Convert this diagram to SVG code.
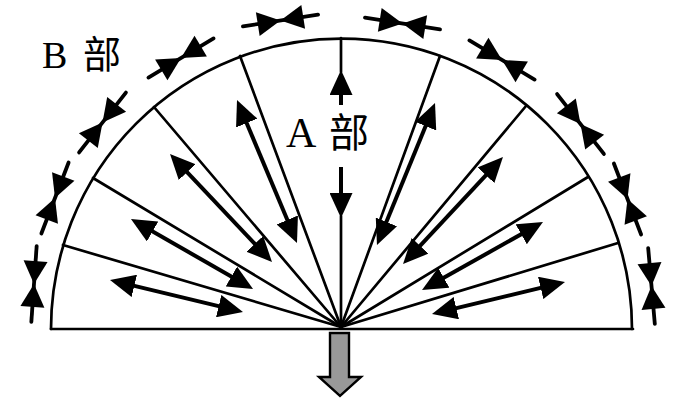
<svg xmlns="http://www.w3.org/2000/svg" width="675" height="399" viewBox="0 0 675 399">
<style>
.thin{stroke:#000;stroke-width:2.7;fill:none;stroke-linecap:round}
.arr{stroke:#000;stroke-width:4;fill:none;marker-start:url(#ah);marker-end:url(#ah)}
.arr1{stroke:#000;stroke-width:4;fill:none;marker-end:url(#ah)}
.lbl{font-family:"Liberation Serif","Noto Sans CJK SC",serif;fill:#000}
.cjk{font-family:"Noto Sans CJK SC","Noto Sans CJK JP",sans-serif}
</style>
<defs>
<marker id="ah" viewBox="0 0 25 23" markerWidth="25" markerHeight="23" refX="17" refY="11.5" orient="auto-start-reverse" markerUnits="userSpaceOnUse">
<path d="M0,0 L25,11.5 L0,23 z" fill="#000"/>
</marker>
<g id="bowtie">
<line x1="-38" y1="0" x2="38" y2="0" stroke="#000" stroke-width="3.8" stroke-linecap="round"/>
<polygon points="0,0 -23,-12 -23,12" fill="#000"/>
<polygon points="0,0 23,-12 23,12" fill="#000"/>
</g>
</defs>
<rect width="675" height="399" fill="#fff"/>

<g id="semicircle">
<path class="thin" d="M51,329 A290,290 0 0 1 632,329" stroke-width="3"/>
<line class="thin" x1="51" y1="329" x2="633" y2="329" stroke-width="3.2"/>
</g>

<g id="connectors">
<line class="thin" x1="341" y1="327" x2="63" y2="245"/>
<line class="thin" x1="341" y1="327" x2="93" y2="178"/>
<line class="thin" x1="341" y1="327" x2="154" y2="107"/>
<line class="thin" x1="341" y1="327" x2="240" y2="56"/>
<line class="thin" x1="341" y1="327" x2="440" y2="56"/>
<line class="thin" x1="341" y1="327" x2="526" y2="106"/>
<line class="thin" x1="341" y1="327" x2="588" y2="177"/>
<line class="thin" x1="341" y1="327" x2="618" y2="243"/>
<line class="thin" x1="341" y1="38" x2="341" y2="72"/>
<line class="thin" x1="341" y1="216" x2="341" y2="327"/>

<line class="arr" x1="117.8" y1="281.9" x2="235.2" y2="310.1"/>
<line class="arr" x1="137.9" y1="223" x2="246.1" y2="285"/>
<line class="arr" x1="175.5" y1="159.8" x2="266.5" y2="256.2"/>
<line class="arr" x1="240.1" y1="107.4" x2="293.9" y2="235.6"/>
<line class="arr" x1="432" y1="110.4" x2="380" y2="237.6"/>
<line class="arr" x1="497.5" y1="162.8" x2="408.5" y2="258.2"/>
<line class="arr" x1="536" y1="225.9" x2="429" y2="286.1"/>
<line class="arr" x1="557.2" y1="283.9" x2="439.8" y2="312.1"/>
<line class="arr1" x1="341" y1="105" x2="341" y2="78"/>
<line class="arr1" x1="341" y1="167" x2="341" y2="210"/>
</g>

<g id="B-arrows">
<use href="#bowtie" transform="translate(34,284) rotate(-86)"/>
<use href="#bowtie" transform="translate(55,198) rotate(-69)"/>
<use href="#bowtie" transform="translate(102.5,122.5) rotate(-52)"/>
<use href="#bowtie" transform="translate(181,58) rotate(-31)"/>
<use href="#bowtie" transform="translate(280.5,20.5) rotate(-9)"/>
<use href="#bowtie" transform="translate(402.5,23.5) rotate(9)"/>
<use href="#bowtie" transform="translate(502,60) rotate(31)"/>
<use href="#bowtie" transform="translate(580.5,124) rotate(52)"/>
<use href="#bowtie" transform="translate(627.5,199) rotate(69)"/>
<use href="#bowtie" transform="translate(651.5,286) rotate(85)"/>
</g>

<g id="force-arrow">
<polygon points="330,333 349,333 349,377 361,377 340,396 319,377 330,377" fill="#999" stroke="#000" stroke-width="2.4" stroke-linejoin="miter"/>
</g>

<g id="label-B">
<text class="lbl" x="42" y="68" font-size="38">B <tspan class="cjk" x="83" y="68" font-size="38">部</tspan></text>
</g>
<g id="label-A">
<text class="lbl" x="286" y="147" font-size="42">A <tspan class="cjk" x="329" y="147" font-size="40">部</tspan></text>
</g>
</svg>
